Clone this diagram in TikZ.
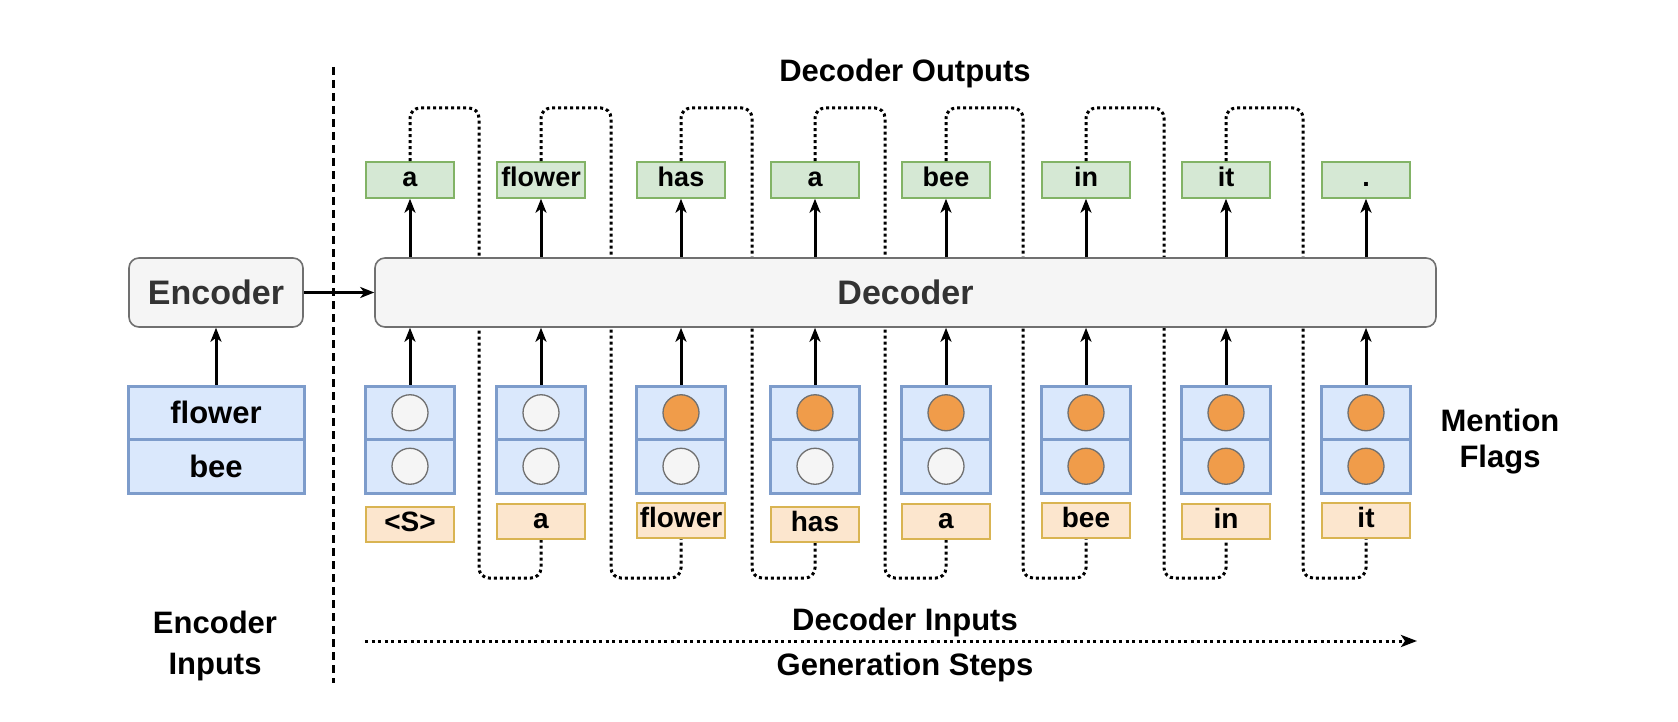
\documentclass[tikz,border=0pt]{standalone}
\usepackage{fontspec}
\setmainfont{Liberation Sans}
\usetikzlibrary{arrows.meta}
\definecolor{grnfill}{HTML}{D5E8D4}
\definecolor{grnline}{HTML}{82B366}
\definecolor{bluefill}{HTML}{DAE8FC}
\definecolor{blueline}{HTML}{7D9CCB}
\definecolor{yelfill}{HTML}{FCE6CE}
\definecolor{yelline}{HTML}{D9B452}
\definecolor{grayfill}{HTML}{F5F5F5}
\definecolor{grayline}{HTML}{707070}
\definecolor{dtext}{HTML}{333333}
\definecolor{flagorange}{HTML}{F09C4A}
\tikzset{
  outbox/.style={draw=grnline, fill=grnfill, line width=1.5, minimum width=88, minimum height=36, inner sep=0, text height=19, text depth=5.5, font=\fontsize{27}{27}\selectfont\bfseries},
  inbox/.style={draw=yelline, fill=yelfill, line width=2, minimum width=88, minimum height=35, inner sep=0, text height=19.5, text depth=5.5, font=\fontsize{28}{28}\selectfont\bfseries},
  cell/.style={draw=blueline, fill=bluefill, line width=3, minimum width=89, minimum height=53.5, inner sep=0},
  enccell/.style={cell, minimum width=176, font=\fontsize{31}{31}\selectfont\bfseries},
  flagoff/.style={circle, draw=grayline, fill=grayfill, line width=1.3, minimum size=36, inner sep=0},
  flagon/.style={circle, draw=grayline, fill=flagorange, line width=1.3, minimum size=36, inner sep=0},
  bigbox/.style={draw=grayline, fill=grayfill, line width=1.6, rounded corners=10, minimum height=69, inner sep=0, text=dtext, font=\fontsize{34}{34}\selectfont\bfseries},
  arr/.style={-{Stealth[length=14,width=11,inset=4]}, line width=3},
  loopline/.style={line width=3, dash pattern=on 3 off 3, rounded corners=10},
  lbl/.style={font=\fontsize{31}{31}\selectfont\bfseries, inner sep=0},
}
\begin{document}
\begin{tikzpicture}[x=1pt, y=-1pt]
\useasboundingbox (0,0) rectangle (1678,722);
\fill[white] (0,0) rectangle (1678,722);

% output tokens
\foreach \i/\x/\t in {1/410/a, 2/541/flower, 3/681/has, 4/815/a, 5/946/bee, 6/1086/in, 7/1226/it, 8/1366/.}
  \node[outbox] (out\i) at (\x,180) {\t};
% input tokens
\foreach \i/\x/\y/\t in {1/410/524.5/{<S>}, 2/541/521.5/a, 3/681/520.5/flower, 4/815/524.5/has, 5/946/521.5/a, 6/1086/520.5/bee, 7/1226/521.5/in, 8/1366/520.5/it}
  \node[inbox] (in\i) at (\x,\y) {\t};

% feedback loops (behind decoder)
\foreach \i/\j/\x/\L/\xn in {1/2/410/479/541, 2/3/541/611/681, 3/4/681/752/815, 4/5/815/885/946, 5/6/946/1023/1086, 6/7/1086/1164/1226, 7/8/1226/1303/1366}
  \draw[loopline] (out\i.north) -- (\x,108) -- (\L,108) -- (\L,578) -- (\xn,578) -- (in\j.south);

% encoder / decoder
\node[bigbox, minimum width=174] (enc) at (216,292.5) {Encoder};
\node[bigbox, minimum width=1061] (dec) at (905.5,292.5) {Decoder};

% mention flag stacks
\foreach \i/\x/\a/\b in {1/410/flagoff/flagoff, 2/541/flagoff/flagoff, 3/681/flagon/flagoff, 4/815/flagon/flagoff, 5/946/flagon/flagoff, 6/1086/flagon/flagon, 7/1226/flagon/flagon, 8/1366/flagon/flagon}{
  \node[cell] (mt\i) at (\x,412.75) {};
  \node[cell] (mb\i) at (\x,466.25) {};
  \node[\a] (ft\i) at (mt\i.center) {};
  \node[\b] (fb\i) at (mb\i.center) {};
  \draw[arr] (mt\i.north) -- (mt\i.north |- dec.south);
  \draw[arr] (out\i.south |- dec.north) -- (out\i.south);
}

% encoder inputs
\node[enccell] (eflower) at (216,412.75) {flower};
\node[enccell] (ebee) at (216,466.25) {bee};
\draw[arr] (eflower.north) -- (enc.south);
\draw[arr] (enc.east) -- (dec.west);

% separator
\coordinate (sepa) at (333,67);
\coordinate (sepb) at (333,683);
\draw[line width=3, dash pattern=on 8 off 5] (sepa) -- (sepb);

% generation steps arrow
\coordinate (gsa) at (365,641);
\coordinate (gsb) at (1417,641);
\draw[line width=3, dash pattern=on 3 off 3.5, -{Stealth[length=16,width=12,inset=4]}] (gsa) -- (gsb);

% labels
\node[lbl] (lout) at (905,73) {Decoder Outputs};
\node[lbl] (lin) at (905,622) {Decoder Inputs};
\node[lbl] (lgen) at (905,667) {Generation Steps};
\node[lbl] (lenc1) at (215,622) {Encoder};
\node[lbl] (lenc2) at (215,667) {Inputs};
\node[lbl] (lmf1) at (1500,420) {Mention};
\node[lbl] (lmf2) at (1500,460) {Flags};
\end{tikzpicture}
\end{document}
